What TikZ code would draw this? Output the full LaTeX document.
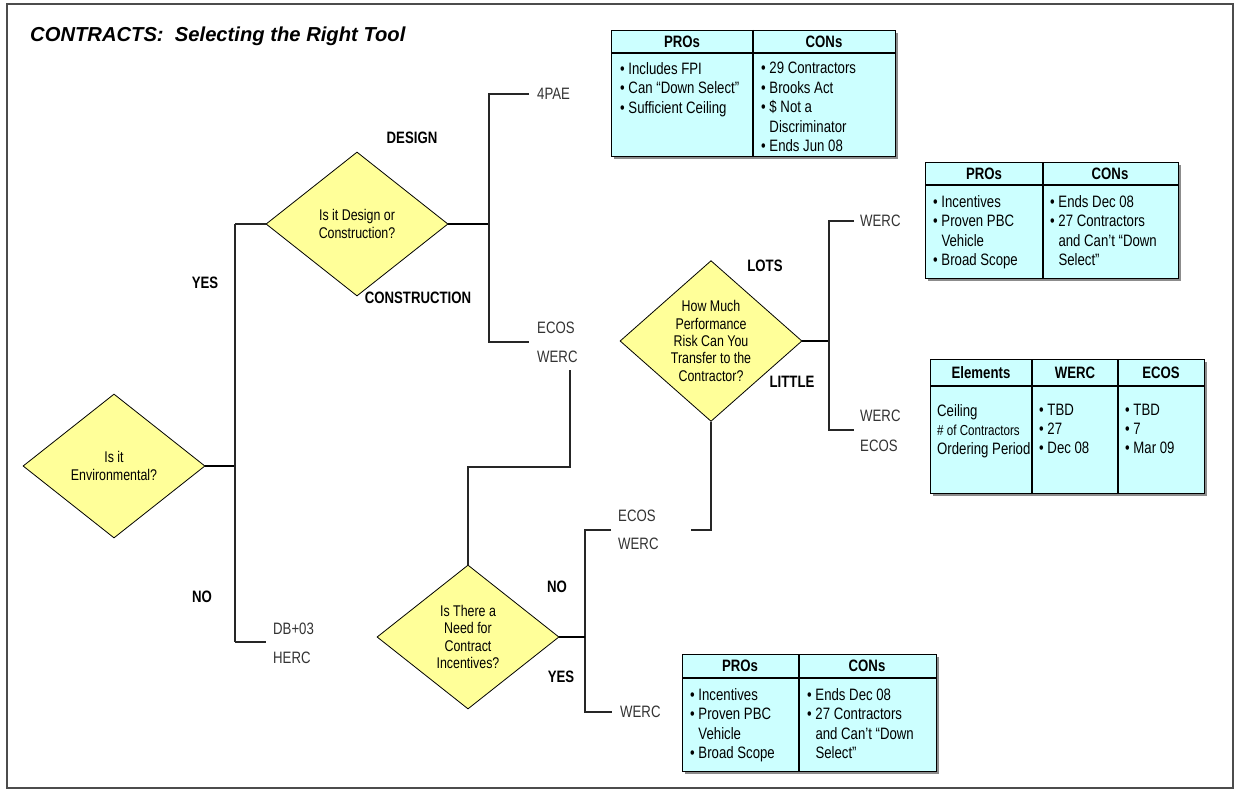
\documentclass[tikz,border=0pt]{standalone}
\usepackage{fontspec}
\setmainfont{Liberation Sans}[FakeStretch=0.8]
\newfontfamily\widefont{Liberation Sans}
\usetikzlibrary{shapes.geometric}
\definecolor{tblfill}{HTML}{CCFFFF}
\definecolor{dmdfill}{HTML}{FFFF99}
\definecolor{optgray}{HTML}{333333}
\definecolor{shadowgray}{HTML}{8C8C8C}
\newcommand\bl{•\ }
\newcommand\hang{\hphantom{•\ }}
\tikzset{
  decision/.style={diamond, draw=black, line width=0.8pt, fill=dmdfill,
    minimum width=182pt, minimum height=144pt, inner sep=0pt, align=center,
    font=\fontsize{15.5}{17.3}\selectfont},
  wire/.style={line width=1.1pt, draw=black!85},
  stub/.style={line width=1.8pt, draw=black},
  option/.style={anchor=west, inner sep=0pt, text=optgray,
    font=\fontsize{16.5}{19}\selectfont},
  branch/.style={inner sep=0pt, text=black,
    font=\fontsize{16.5}{19}\selectfont\bfseries},
  tbl/.style={draw=black, line width=1.2pt, fill=tblfill, inner sep=0pt, anchor=north west},
  tshadow/.style={fill=shadowgray},
  tline/.style={line width=1.2pt, draw=black},
  hdr/.style={inner sep=0pt, font=\fontsize{16.5}{19}\selectfont\bfseries},
  cell/.style={inner sep=0pt, anchor=north west, align=left,
    font=\fontsize{16.5}{19.5}\selectfont},
}
\begin{document}
\begin{tikzpicture}[x=1pt, y=-1pt]
\useasboundingbox (0,0) rectangle (1236,792);
\fill[white] (0,0) rectangle (1236,792);
% outer frame
\draw[line width=1.2pt, draw=black!70] (7,4) rectangle (1233,788);

% title
\node[anchor=base west, inner sep=0pt, font=\widefont\fontsize{20.2}{23}\selectfont\bfseries\itshape]
  (title) at (30,42) {CONTRACTS:\ \ Selecting the Right Tool};

% decision diamonds
\node[decision] (env) at (114,466) {Is it\\Environmental?};
\node[decision] (dc) at (357,224) {Is it Design or\\Construction?};
\node[decision] (risk) at (711,341) {How Much\\Performance\\Risk Can You\\Transfer to the\\Contractor?};
\node[decision] (inc) at (468,637) {Is There a\\Need for\\Contract\\Incentives?};

% junction points
\coordinate (j1) at (235,466);
\coordinate (j1t) at (235,224);
\coordinate (j1b) at (235,642);
\coordinate (j1be) at (266,642);
\coordinate (j2) at (489,224);
\coordinate (j2t) at (489,94);
\coordinate (j2te) at (529,94);
\coordinate (j2b) at (489,342);
\coordinate (j2be) at (529,342);
\coordinate (w1a) at (570,370);
\coordinate (w1b) at (570,467);
\coordinate (w1c) at (468,467);
\coordinate (j3) at (829,341);
\coordinate (j3t) at (829,221);
\coordinate (j3te) at (854,221);
\coordinate (j3b) at (829,430);
\coordinate (j3be) at (854,430);
\coordinate (r1) at (711,530);
\coordinate (r2) at (691,530);
\coordinate (j4t) at (585,530);
\coordinate (j4te) at (611,530);
\coordinate (j4) at (585,637);
\coordinate (j4b) at (585,712);
\coordinate (j4be) at (612,712);

% connectors
\draw[stub] (env.east) -- (j1);
\draw[wire] (j1t) -- (j1b);
\draw[wire] (j1t) -- (dc.west);
\draw[wire] (j1b) -- (j1be);
\draw[stub] (dc.east) -- (j2);
\draw[wire] (j2te) -- (j2t) -- (j2b) -- (j2be);
\draw[wire] (w1a) -- (w1b) -- (w1c) -- (inc.north);
\draw[stub] (risk.east) -- (j3);
\draw[wire] (j3te) -- (j3t) -- (j3b) -- (j3be);
\draw[wire] (risk.south) -- (r1) -- (r2);
\draw[wire] (j4te) -- (j4t) -- (j4b) -- (j4be);
\draw[stub] (inc.east) -- (j4);

% branch labels
\node[branch] (lyes) at (205,283) {YES};
\node[branch] (lno) at (202,597) {NO};
\node[branch] (ldes) at (412,138) {DESIGN};
\node[branch] (lcon) at (418,298) {CONSTRUCTION};
\node[branch] (llots) at (765,266) {LOTS};
\node[branch] (llit) at (792,382) {LITTLE};
\node[branch] (lno2) at (557,587) {NO};
\node[branch] (lyes2) at (561,677) {YES};

% contract options
\node[option] (o4pae) at (537,94) {4PAE};
\node[option] (oecos1) at (537,328) {ECOS};
\node[option] (owerc1) at (537,357) {WERC};
\node[option] (owerc2) at (860,221) {WERC};
\node[option] (owerc3) at (860,416) {WERC};
\node[option] (oecos3) at (860,446) {ECOS};
\node[option] (oecos2) at (618,516) {ECOS};
\node[option] (owerc4) at (618,544) {WERC};
\node[option] (odb) at (273,629) {DB+03};
\node[option] (oherc) at (273,658) {HERC};
\node[option] (owerc5) at (620,712) {WERC};

% table: 4PAE
\fill[tshadow] (614,33) rectangle (898,159);
\node[tbl, minimum width=284pt, minimum height=126pt] (ta) at (611,30) {};
\draw[tline] (611,53) -- (895,53);
\draw[tline] (753,30) -- (753,156);
\node[hdr] (tah1) at (682,42) {PROs};
\node[hdr] (tah2) at (824,42) {CONs};
\node[cell] (tac1) at (620,62) {\bl Includes FPI\\\bl Can “Down Select”\\\bl Sufficient Ceiling};
\node[cell] (tac2) at (761,62) {\bl 29 Contractors\\\bl Brooks Act\\\bl \$ Not a\\\hang Discriminator\\\bl Ends Jun 08};

% table: WERC (lots of risk)
\fill[tshadow] (928,165) rectangle (1181,281);
\node[tbl, minimum width=253pt, minimum height=116pt] (tb) at (925,162) {};
\draw[tline] (925,185) -- (1178,185);
\draw[tline] (1043,162) -- (1043,278);
\node[hdr] (tbh1) at (984,174) {PROs};
\node[hdr] (tbh2) at (1110,174) {CONs};
\node[cell] (tbc1) at (933,195) {\bl Incentives\\\bl Proven PBC\\\hang Vehicle\\\bl Broad Scope};
\node[cell] (tbc2) at (1050,195) {\bl Ends Dec 08\\\bl 27 Contractors\\\hang and Can’t “Down\\\hang Select”};

% table: WERC vs ECOS
\fill[tshadow] (933,362) rectangle (1207,496);
\node[tbl, minimum width=274pt, minimum height=134pt] (tc) at (930,359) {};
\draw[tline] (930,386) -- (1204,386);
\draw[tline] (1032,359) -- (1032,493);
\draw[tline] (1118,359) -- (1118,493);
\node[hdr] (tch1) at (981,373) {Elements};
\node[hdr] (tch2) at (1075,373) {WERC};
\node[hdr] (tch3) at (1161,373) {ECOS};
\node[cell, font=\fontsize{16.5}{19}\selectfont] (tcc1) at (937,404) {Ceiling\\{\fontsize{14.5}{19}\selectfont\# of Contractors}\\Ordering Period};
\node[cell, font=\fontsize{16.5}{19}\selectfont] (tcc2) at (1039,404) {\bl TBD\\\bl 27\\\bl Dec 08};
\node[cell, font=\fontsize{16.5}{19}\selectfont] (tcc3) at (1125,404) {\bl TBD\\\bl 7\\\bl Mar 09};

% table: WERC (incentives)
\fill[tshadow] (685,657) rectangle (939,774);
\node[tbl, minimum width=254pt, minimum height=117pt] (td) at (682,654) {};
\draw[tline] (682,678) -- (936,678);
\draw[tline] (799,654) -- (799,771);
\node[hdr] (tdh1) at (740,666) {PROs};
\node[hdr] (tdh2) at (867,666) {CONs};
\node[cell] (tdc1) at (690,688) {\bl Incentives\\\bl Proven PBC\\\hang Vehicle\\\bl Broad Scope};
\node[cell] (tdc2) at (807,688) {\bl Ends Dec 08\\\bl 27 Contractors\\\hang and Can’t “Down\\\hang Select”};
\end{tikzpicture}
\end{document}
